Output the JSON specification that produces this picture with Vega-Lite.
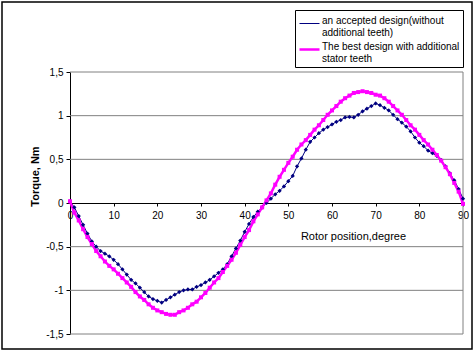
{
  "$schema": "https://vega.github.io/schema/vega-lite/v6.json",
  "width": 470,
  "height": 347,
  "autosize": {"type": "none"},
  "padding": {"left": 2, "top": 2, "right": 3, "bottom": 3},
  "background": "white",
  "config": {
    "view": {"stroke": "black", "strokeWidth": 1.5},
    "font": "Liberation Sans",
    "axis": {"labelFont": "Liberation Sans", "titleFont": "Liberation Sans", "labelColor": "black", "titleColor": "black", "domainColor": "black", "tickColor": "black", "grid": false}
  },
  "datasets": {
    "torque": [
      {"d":0,"A":0.02,"B":0.02},{"d":1,"A":-0.05,"B":-0.11},{"d":2,"A":-0.15,"B":-0.2},{"d":3,"A":-0.25,"B":-0.3},{"d":4,"A":-0.35,"B":-0.39},
      {"d":5,"A":-0.44,"B":-0.47},{"d":6,"A":-0.5,"B":-0.55},{"d":7,"A":-0.55,"B":-0.61},{"d":8,"A":-0.58,"B":-0.67},{"d":9,"A":-0.61,"B":-0.72},
      {"d":10,"A":-0.65,"B":-0.76},{"d":11,"A":-0.7,"B":-0.81},{"d":12,"A":-0.76,"B":-0.86},{"d":13,"A":-0.82,"B":-0.91},{"d":14,"A":-0.88,"B":-0.96},
      {"d":15,"A":-0.92,"B":-1.02},{"d":16,"A":-0.97,"B":-1.07},{"d":17,"A":-1.02,"B":-1.11},{"d":18,"A":-1.07,"B":-1.16},{"d":19,"A":-1.1,"B":-1.2},
      {"d":20,"A":-1.12,"B":-1.23},{"d":21,"A":-1.14,"B":-1.25},{"d":22,"A":-1.11,"B":-1.27},{"d":23,"A":-1.08,"B":-1.28},{"d":24,"A":-1.05,"B":-1.28},
      {"d":25,"A":-1.02,"B":-1.25},{"d":26,"A":-1.0,"B":-1.23},{"d":27,"A":-0.99,"B":-1.2},{"d":28,"A":-0.99,"B":-1.16},{"d":29,"A":-0.96,"B":-1.13},
      {"d":30,"A":-0.94,"B":-1.08},{"d":31,"A":-0.91,"B":-1.03},{"d":32,"A":-0.88,"B":-0.97},{"d":33,"A":-0.84,"B":-0.91},{"d":34,"A":-0.8,"B":-0.86},
      {"d":35,"A":-0.76,"B":-0.79},{"d":36,"A":-0.7,"B":-0.72},{"d":37,"A":-0.61,"B":-0.65},{"d":38,"A":-0.52,"B":-0.57},{"d":39,"A":-0.43,"B":-0.48},
      {"d":40,"A":-0.33,"B":-0.39},{"d":41,"A":-0.24,"B":-0.31},{"d":42,"A":-0.16,"B":-0.21},{"d":43,"A":-0.1,"B":-0.13},{"d":44,"A":-0.05,"B":-0.05},
      {"d":45,"A":0.0,"B":0.03},{"d":46,"A":0.05,"B":0.11},{"d":47,"A":0.1,"B":0.21},{"d":48,"A":0.14,"B":0.3},{"d":49,"A":0.19,"B":0.38},
      {"d":50,"A":0.25,"B":0.46},{"d":51,"A":0.31,"B":0.53},{"d":52,"A":0.42,"B":0.61},{"d":53,"A":0.51,"B":0.67},{"d":54,"A":0.61,"B":0.72},
      {"d":55,"A":0.7,"B":0.78},{"d":56,"A":0.75,"B":0.84},{"d":57,"A":0.8,"B":0.89},{"d":58,"A":0.84,"B":0.95},{"d":59,"A":0.87,"B":1.01},
      {"d":60,"A":0.9,"B":1.06},{"d":61,"A":0.93,"B":1.11},{"d":62,"A":0.95,"B":1.16},{"d":63,"A":0.98,"B":1.2},{"d":64,"A":0.985,"B":1.23},
      {"d":65,"A":0.98,"B":1.26},{"d":66,"A":1.01,"B":1.27},{"d":67,"A":1.05,"B":1.28},{"d":68,"A":1.08,"B":1.27},{"d":69,"A":1.11,"B":1.26},
      {"d":70,"A":1.14,"B":1.24},{"d":71,"A":1.12,"B":1.23},{"d":72,"A":1.09,"B":1.2},{"d":73,"A":1.06,"B":1.16},{"d":74,"A":1.01,"B":1.11},
      {"d":75,"A":0.96,"B":1.06},{"d":76,"A":0.92,"B":1.01},{"d":77,"A":0.875,"B":0.95},{"d":78,"A":0.82,"B":0.89},{"d":79,"A":0.75,"B":0.84},
      {"d":80,"A":0.69,"B":0.78},{"d":81,"A":0.65,"B":0.72},{"d":82,"A":0.6,"B":0.67},{"d":83,"A":0.57,"B":0.61},{"d":84,"A":0.54,"B":0.55},
      {"d":85,"A":0.49,"B":0.485},{"d":86,"A":0.42,"B":0.41},{"d":87,"A":0.34,"B":0.33},{"d":88,"A":0.26,"B":0.23},{"d":89,"A":0.16,"B":0.13},
      {"d":90,"A":0.05,"B":-0.01}
    ],
    "grid": [{"g":-1.5},{"g":-1},{"g":-0.5},{"g":0.5},{"g":1},{"g":1.5}],
    "edge": [{"e":90}]
  },
  "layer": [
    {
      "data": {"name": "grid"},
      "mark": {"type": "rule", "color": "#808080", "strokeWidth": 1},
      "encoding": {
        "y": {"field": "g", "type": "quantitative"},
        "x": {"datum": 0, "type": "quantitative"},
        "x2": {"datum": 90}
      }
    },
    {
      "data": {"name": "edge"},
      "mark": {"type": "rule", "color": "#808080", "strokeWidth": 1},
      "encoding": {
        "x": {"field": "e", "type": "quantitative"},
        "y": {"datum": -1.5, "type": "quantitative"},
        "y2": {"datum": 1.5}
      }
    },
    {
      "data": {"name": "torque"},
      "transform": [{"fold": ["A", "B"], "as": ["series", "torque"]}],
      "mark": {"type": "line"},
      "encoding": {
        "x": {
          "field": "d", "type": "quantitative",
          "scale": {"domain": [0, 90], "range": [68, 461], "nice": false, "zero": false},
          "axis": {"orient": "bottom", "offset": -146, "values": [0,10,20,30,40,50,60,70,80,90], "tickSize": 3, "labelPadding": 4, "labelFontSize": 10, "labelFlush": false, "labelOverlap": false,
                   "title": "Rotor position,degree", "titleFontWeight": "normal", "titleFontSize": 11, "titleX": 351, "titleY": 33, "titleAlign": "center", "titleBaseline": "middle"}
        },
        "y": {
          "field": "torque", "type": "quantitative",
          "scale": {"domain": [-1.5, 1.5], "range": [332, 70], "nice": false},
          "axis": {"orient": "left", "offset": -68, "values": [-1.5,-1,-0.5,0,0.5,1,1.5], "labelExpr": "replace(toString(datum.value), '.', ',')", "tickSize": 4, "labelPadding": 3, "labelFontSize": 10, "labelOverlap": false,
                   "title": "Torque, Nm", "titleFontWeight": "bold", "titleFontSize": 11, "titleX": -35, "titleY": 174, "titleAngle": -90, "titleAlign": "center", "titleBaseline": "middle"}
        },
        "color": {
          "field": "series", "type": "nominal",
          "scale": {"domain": ["A", "B"], "range": ["#000080", "#FF00FF"]},
          "legend": {"orient": "none", "legendX": 293, "legendY": 8, "title": null, "strokeColor": "black", "fillColor": "white", "padding": 3,
                     "labelFont": "Liberation Sans", "labelFontSize": 10, "labelColor": "black", "labelLimit": 400, "labelBaseline": "alphabetic", "labelOffset": 1,
                     "symbolType": "stroke", "symbolSize": 400, "rowPadding": 0,
                     "labelExpr": "datum.value == 'A' ? ['an accepted design(without', 'additional teeth)'] : ['The best design with additional', 'stator teeth']"}
        },
        "strokeWidth": {
          "field": "series", "type": "nominal",
          "scale": {"domain": ["A", "B"], "range": [1, 2.5]},
          "legend": {"orient": "none", "legendX": 293, "legendY": 8, "title": null, "strokeColor": "black", "fillColor": "white", "padding": 3,
                     "labelFont": "Liberation Sans", "labelFontSize": 10, "labelColor": "black", "labelLimit": 400, "labelBaseline": "alphabetic", "labelOffset": 1,
                     "symbolType": "stroke", "symbolSize": 400, "rowPadding": 0,
                     "labelExpr": "datum.value == 'A' ? ['an accepted design(without', 'additional teeth)'] : ['The best design with additional', 'stator teeth']"}
        }
      }
    },
    {
      "data": {"name": "torque"},
      "mark": {"type": "point", "shape": "diamond", "filled": true, "color": "#000080", "size": 18, "opacity": 1},
      "encoding": {
        "x": {"field": "d", "type": "quantitative"},
        "y": {"field": "A", "type": "quantitative"}
      }
    },
    {
      "data": {"name": "torque"},
      "mark": {"type": "point", "shape": "square", "filled": true, "color": "#FF00FF", "size": 16, "opacity": 1},
      "encoding": {
        "x": {"field": "d", "type": "quantitative"},
        "y": {"field": "B", "type": "quantitative"}
      }
    }
  ]
}
